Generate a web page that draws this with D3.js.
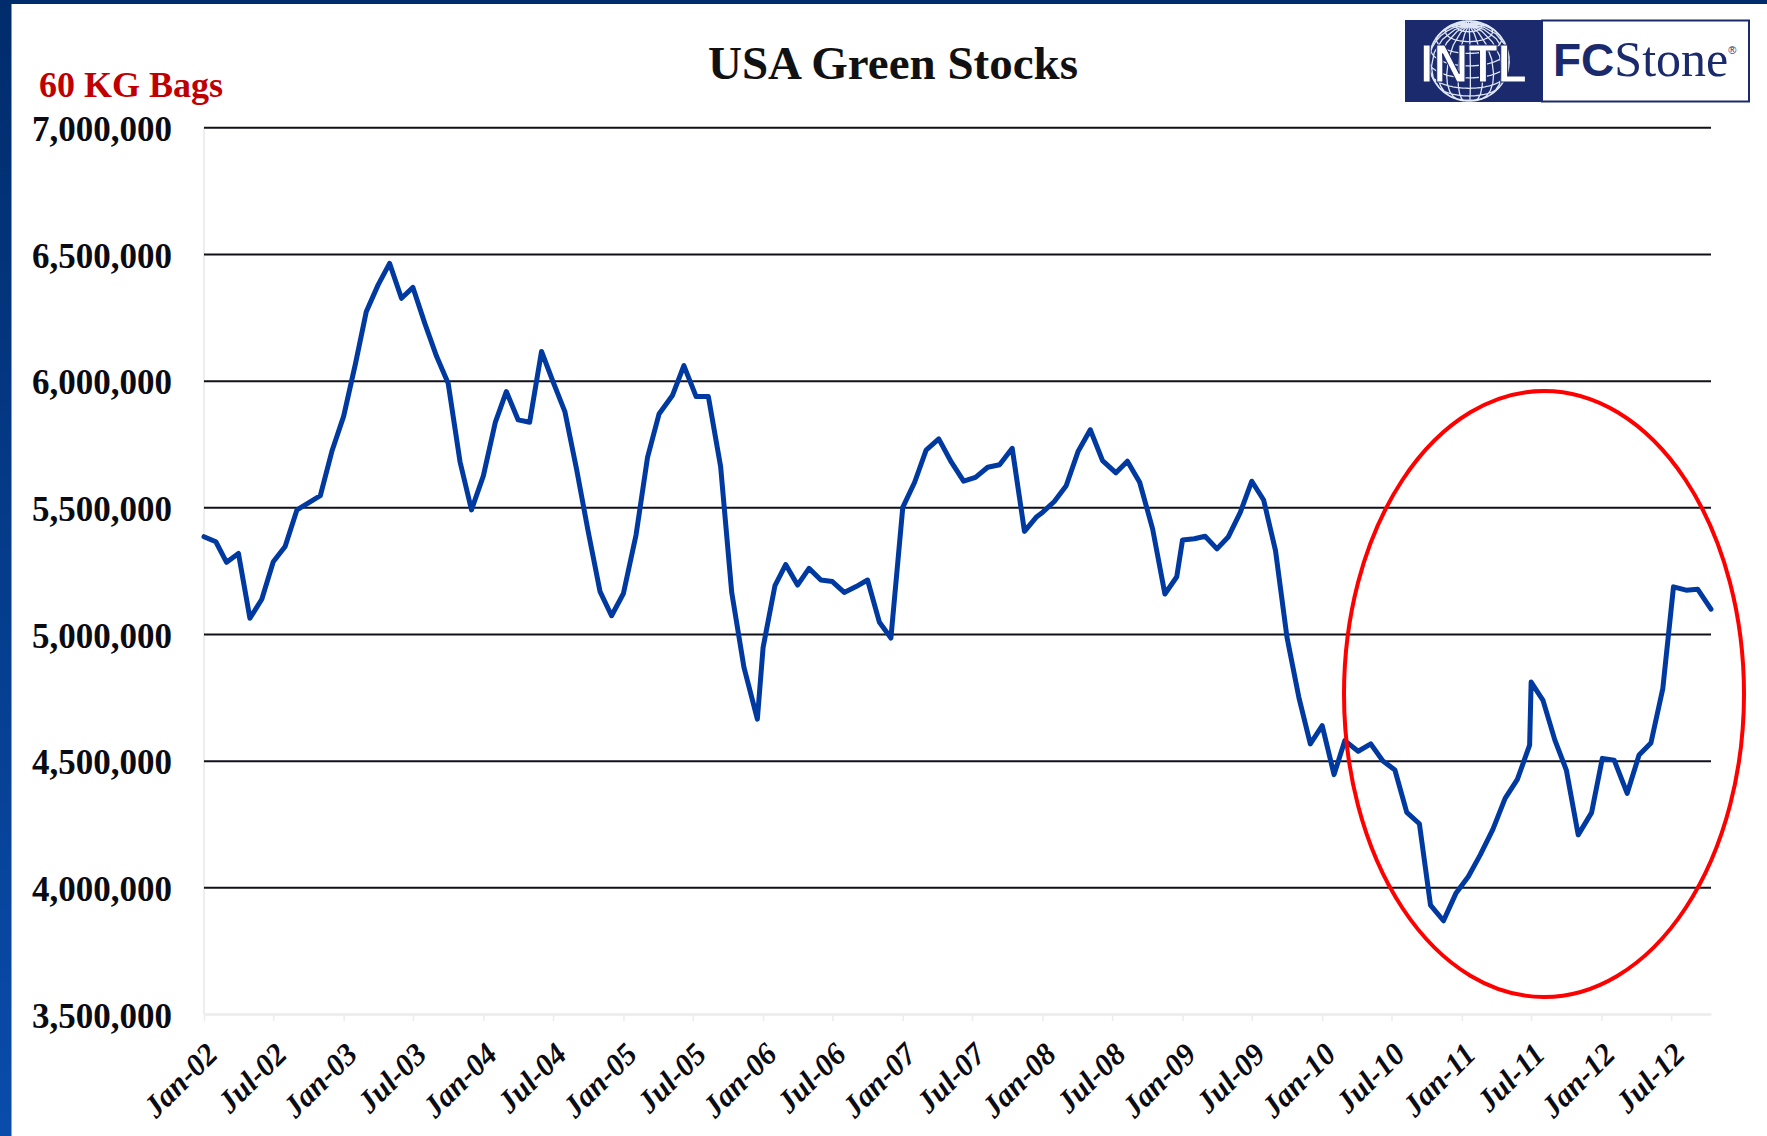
<!DOCTYPE html>
<html>
<head>
<meta charset="utf-8">
<script src="https://cdn.jsdelivr.net/npm/d3@7"></script>
<style>
  html, body { margin: 0; padding: 0; background: #ffffff; }
  svg { display: block; }
</style>
</head>
<body>
<svg id="chart" width="1767" height="1136"></svg>
<script>
// ---------------- DATA ----------------
const chartTitle = "USA Green Stocks";
const unitLabel = "60 KG Bags";
const brandLeft = "INTL";
const brandRight1 = "FC";
const brandRight2 = "Stone";

// observation dates (as plotted in the source chart)
const dates = [
  "2002-01-01","2002-02-01","2002-03-01","2002-04-01","2002-05-01","2002-06-01","2002-07-01","2002-08-01","2002-09-01","2002-10-01","2002-11-01","2002-12-01",
  "2003-01-01","2003-02-01","2003-03-01","2003-04-01","2003-05-01","2003-06-01","2003-07-01","2003-08-01","2003-09-01","2003-10-01","2003-11-01","2003-12-01",
  "2004-01-01","2004-02-01","2004-03-01","2004-04-01","2004-05-01","2004-06-01","2004-07-01","2004-08-01","2004-09-01","2004-10-01","2004-11-01","2004-12-01",
  "2005-01-01","2005-02-03","2005-03-05","2005-04-04","2005-05-09","2005-06-08","2005-07-10","2005-08-11","2005-09-12","2005-10-11","2005-11-12","2005-12-17",
  "2006-01-01","2006-02-01","2006-03-01","2006-04-01","2006-05-01","2006-06-01","2006-07-01","2006-08-01","2006-09-01","2006-10-01","2006-11-01","2006-12-01",
  "2007-01-01","2007-02-01","2007-03-03","2007-04-05","2007-05-08","2007-06-09","2007-07-10","2007-08-11","2007-09-11","2007-10-14","2007-11-15","2007-12-17",
  "2008-01-01","2008-02-01","2008-03-03","2008-04-03","2008-05-05","2008-06-06","2008-07-11","2008-08-10","2008-09-11","2008-10-15","2008-11-16","2008-12-17",
  "2009-01-01","2009-02-01","2009-03-01","2009-04-01","2009-05-01","2009-06-01","2009-07-01","2009-08-01","2009-09-01","2009-10-01","2009-11-01","2009-12-01",
  "2010-01-01","2010-02-01","2010-03-01","2010-04-05","2010-05-08","2010-06-08","2010-07-10","2010-08-10","2010-09-12","2010-10-11","2010-11-14","2010-12-17",
  "2011-01-18","2011-02-18","2011-03-23","2011-04-24","2011-05-26","2011-06-27","2011-07-01","2011-08-01","2011-09-01","2011-10-01","2011-11-01","2011-12-06",
  "2012-01-03","2012-02-03","2012-03-08","2012-04-08","2012-05-09","2012-06-09","2012-07-07","2012-08-09","2012-09-08","2012-10-13"
];

// stocks, 60 kg bags
const stocks = [
  5384000,5364000,5283000,5318000,5062000,5137000,5285000,5345000,5490000,5518000,5546000,5720000,
  5860000,6068000,6272000,6378000,6463000,6325000,6368000,6226000,6095000,5990000,5680000,5490000,
  5624000,5834000,5957000,5845000,5836000,6115000,5996000,5878000,5647000,5404000,5167000,5072000,
  5160000,5391000,5697000,5868000,5941000,6059000,5937000,5937000,5661000,5164000,4868000,4664000,
  4947000,5191000,5274000,5193000,5259000,5213000,5207000,5164000,5187000,5213000,5046000,4984000,
  5500000,5599000,5726000,5770000,5678000,5603000,5618000,5658000,5668000,5733000,5405000,5463000,
  5480000,5523000,5585000,5720000,5806000,5684000,5636000,5682000,5599000,5414000,5158000,5226000,
  5371000,5376000,5386000,5336000,5384000,5480000,5603000,5529000,5329000,4987000,4750000,4566000,
  4638000,4445000,4579000,4537000,4566000,4500000,4463000,4296000,4251000,3930000,3868000,3978000,
  4043000,4128000,4229000,4351000,4426000,4561000,4810000,4738000,4581000,4463000,4207000,4295000,
  4509000,4502000,4371000,4522000,4570000,4784000,5186000,5173000,5177000,5098000
];

const yTicks = [3500000,4000000,4500000,5000000,5500000,6000000,6500000,7000000];
const xTickLabels = ["Jan-02","Jul-02","Jan-03","Jul-03","Jan-04","Jul-04","Jan-05","Jul-05","Jan-06","Jul-06",
                     "Jan-07","Jul-07","Jan-08","Jul-08","Jan-09","Jul-09","Jan-10","Jul-10","Jan-11","Jul-11",
                     "Jan-12","Jul-12"];

// ---------------- LAYOUT ----------------
const W = 1767, H = 1136;
const plot = { left: 204, right: 1711, top: 127.3, bottom: 1014 };
const serif = "'Liberation Serif','Times New Roman',serif";
const sans = "'Liberation Sans',Arial,sans-serif";
const navy = "#1A2A6C";

const svg = d3.select("#chart");
const parseDate = d3.timeParse("%Y-%m-%d");
const parseTick = d3.timeParse("%b-%y");
const fmtTick = d3.timeFormat("%b-%y");

const series = dates.map((d, i) => ({ date: parseDate(d), value: stocks[i] }));
const xTicks = xTickLabels.map(parseTick);

// frame (blue border bars)
const defs = svg.append("defs");
const grad = defs.append("linearGradient").attr("id", "sideGrad")
  .attr("x1", 0).attr("y1", 0).attr("x2", 0).attr("y2", 1);
grad.append("stop").attr("offset", "0%").attr("stop-color", "#002C6C");
grad.append("stop").attr("offset", "100%").attr("stop-color", "#0A4CAB");
svg.append("rect").attr("x", 0).attr("y", 0).attr("width", W).attr("height", 4).attr("fill", "#002C6C");
svg.append("rect").attr("x", 0).attr("y", 0).attr("width", 11.5).attr("height", H).attr("fill", "url(#sideGrad)");

// scales
const x = d3.scaleTime()
  .domain([series[0].date, series[series.length - 1].date])
  .range([plot.left, plot.right]);
const y = d3.scaleLinear()
  .domain([yTicks[0], yTicks[yTicks.length - 1]])
  .range([plot.bottom, plot.top]);

// faint vertical axis
svg.append("line")
  .attr("x1", plot.left).attr("x2", plot.left)
  .attr("y1", plot.top).attr("y2", plot.bottom)
  .attr("stroke", "#eeeeee").attr("stroke-width", 2);

// y axis + gridlines
const yAxis = svg.append("g")
  .attr("transform", `translate(${plot.left},0)`)
  .call(d3.axisLeft(y).tickValues(yTicks)
    .tickSize(-(plot.right - plot.left)).tickPadding(32)
    .tickFormat(d3.format(",")));
yAxis.select(".domain").remove();
yAxis.selectAll(".tick line")
  .attr("stroke", d => d === yTicks[0] ? "#ececec" : "#111118")
  .attr("stroke-width", 2);
yAxis.selectAll(".tick text")
  .attr("dy", "0.38em")
  .style("font-family", serif).style("font-weight", "bold")
  .style("font-size", "35px").attr("fill", "#0b0b14");

// x axis
const xAxis = svg.append("g")
  .attr("transform", `translate(0,${plot.bottom})`)
  .call(d3.axisBottom(x).tickValues(xTicks).tickSize(7).tickSizeOuter(0)
    .tickPadding(0).tickFormat(fmtTick));
xAxis.select(".domain").attr("stroke", "#ececec").attr("stroke-width", 2);
xAxis.selectAll(".tick line").attr("stroke", "#ececec").attr("stroke-width", 1.5);
xAxis.selectAll(".tick text")
  .attr("x", 0).attr("y", 0).attr("dy", null)
  .attr("text-anchor", "end")
  .attr("transform", "translate(15,42) rotate(-45)")
  .style("font-family", serif).style("font-weight", "bold").style("font-style", "italic")
  .style("font-size", "31px").attr("fill", "#0b0b14");

// data line
const line = d3.line().x(d => x(d.date)).y(d => y(d.value));
svg.append("path")
  .datum(series)
  .attr("d", line)
  .attr("fill", "none")
  .attr("stroke", "#0039A0")
  .attr("stroke-width", 5)
  .attr("stroke-linejoin", "round")
  .attr("stroke-linecap", "round");

// highlight ellipse
svg.append("ellipse")
  .attr("cx", 1544).attr("cy", 694).attr("rx", 200).attr("ry", 303)
  .attr("fill", "none").attr("stroke", "#FF0000").attr("stroke-width", 4);

// title + unit label
svg.append("text")
  .attr("x", 893).attr("y", 79)
  .attr("text-anchor", "middle")
  .style("font-family", serif).style("font-weight", "bold").style("font-size", "47px")
  .attr("fill", "#111111")
  .text(chartTitle);

svg.append("text")
  .attr("x", 39).attr("y", 97)
  .style("font-family", serif).style("font-weight", "bold").style("font-size", "36px")
  .attr("fill", "#C00000")
  .text(unitLabel);

// ---------------- LOGO ----------------
const logo = svg.append("g").attr("transform", "translate(1405,20)");
const logoW = 345, logoH = 82, splitX = 137;
logo.append("rect").attr("x", splitX).attr("y", 0.5).attr("width", logoW - splitX - 1).attr("height", logoH - 1)
  .attr("fill", "#ffffff").attr("stroke", navy).attr("stroke-width", 2);
logo.append("rect").attr("x", 0).attr("y", 0).attr("width", splitX).attr("height", logoH).attr("fill", navy);

const proj = d3.geoOrthographic().scale(40).translate([64, 41]).rotate([20, -25]).clipAngle(90);
const gpath = d3.geoPath(proj);
logo.append("path").datum(d3.geoGraticule().step([18, 18])())
  .attr("d", gpath).attr("fill", "none").attr("stroke", "#dfe6f5").attr("stroke-width", 1.3);
logo.append("path").datum({ type: "Sphere" })
  .attr("d", gpath).attr("fill", "none").attr("stroke", "#dfe6f5").attr("stroke-width", 1.6);

logo.append("text")
  .attr("x", 15).attr("y", 62)
  .attr("textLength", 107).attr("lengthAdjust", "spacingAndGlyphs")
  .style("font-family", sans).style("font-weight", "bold").style("font-size", "54px")
  .attr("fill", "#ffffff").attr("stroke", navy).attr("stroke-width", 1.2)
  .text(brandLeft);

const fc = logo.append("text").attr("x", 148).attr("y", 56).attr("fill", navy);
fc.append("tspan").style("font-family", sans).style("font-weight", "bold").style("font-size", "46px")
  .text(brandRight1);
fc.append("tspan").style("font-family", serif).style("font-size", "50px").text(brandRight2);
fc.append("tspan").attr("dy", -22).style("font-family", sans).style("font-size", "11px").text("®");
</script>
</body>
</html>
